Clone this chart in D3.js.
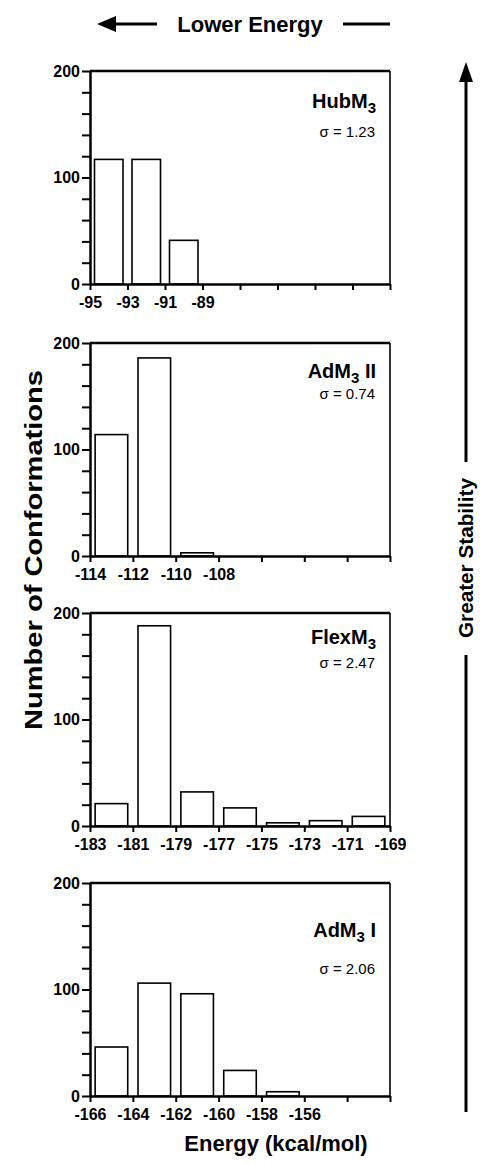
<!DOCTYPE html>
<html>
<head>
<meta charset="utf-8">
<script src="https://cdn.jsdelivr.net/npm/d3@7"></script>
<style>
  body { margin: 0; background: #fff; }
  svg { font-family: "Liberation Sans", Arial, Helvetica, sans-serif; }
  .tick text { font-weight: bold; font-size: 16px; fill: #000; }
  .tick line { stroke: #000; stroke-width: 2; }
  .domain { stroke: #000; stroke-width: 2.5; }
</style>
</head>
<body>
<div id="chart"></div>
<script>
// Histogram data, one set of arrays per panel (bins are 2 kcal/mol wide)
var hubStarts = [-95, -93, -91];
var hubCounts = [117, 117, 41];
var hubDomain = [-95, -79];
var hubLabels = [-95, -93, -91, -89];

var adm2Starts = [-114, -112, -110];
var adm2Counts = [114, 186, 3];
var adm2Domain = [-114, -100];
var adm2Labels = [-114, -112, -110, -108];

var flexStarts = [-183, -181, -179, -177, -175, -173, -171];
var flexCounts = [21, 188, 32, 17, 3, 5, 9];
var flexDomain = [-183, -169];
var flexLabels = [-183, -181, -179, -177, -175, -173, -171, -169];

var adm1Starts = [-166, -164, -162, -160, -158];
var adm1Counts = [46, 106, 96, 24, 4];
var adm1Domain = [-166, -152];
var adm1Labels = [-166, -164, -162, -160, -158, -156];

var titleBase = ["HubM", "AdM", "FlexM", "AdM"];
var titleSuffix = ["", " II", "", " I"];
var sigmas = ["1.23", "0.74", "2.47", "2.06"];
var yLabels = [0, 100, 200];
var binWidth = 2;

var panels = [
  {starts: hubStarts, counts: hubCounts, domain: hubDomain, labels: hubLabels},
  {starts: adm2Starts, counts: adm2Counts, domain: adm2Domain, labels: adm2Labels},
  {starts: flexStarts, counts: flexCounts, domain: flexDomain, labels: flexLabels},
  {starts: adm1Starts, counts: adm1Counts, domain: adm1Domain, labels: adm1Labels}
];

// Layout
var width = 483, height = 1165;
var left = 90, right = 390;
var panelTops = [71, 343, 613, 883];
var panelH = 213;
var titleDy = [37, 35, 31, 54];
var sigmaDy = [66, 56, 55, 91];

var svg = d3.select("#chart").append("svg")
    .attr("width", width)
    .attr("height", height);

panels.forEach(function(p, i) {
    var top = panelTops[i];
    var g = svg.append("g").attr("class", "panel");

    var x = d3.scaleLinear().domain(p.domain).range([left, right]);
    var y = d3.scaleLinear().domain([0, 200]).range([top + panelH, top]);

    // bars
    var bin = x(p.domain[0] + binWidth) - x(p.domain[0]);
    var pad = bin * 0.12;
    g.selectAll("rect.bar").data(p.starts).enter()
        .append("rect")
        .attr("class", "bar")
        .attr("x", function(d) { return x(d) + pad; })
        .attr("width", bin - 2 * pad)
        .attr("y", function(d, j) { return y(p.counts[j]); })
        .attr("height", function(d, j) { return y(0) - y(p.counts[j]); })
        .attr("fill", "#fff")
        .attr("stroke", "#000")
        .attr("stroke-width", 1.6);

    // frame: top and right edges
    g.append("line")
        .attr("x1", x(p.domain[0])).attr("x2", x(p.domain[1]))
        .attr("y1", y(200)).attr("y2", y(200))
        .attr("stroke", "#000").attr("stroke-width", 2.5);
    g.append("line")
        .attr("x1", x(p.domain[1])).attr("x2", x(p.domain[1]))
        .attr("y1", y(200)).attr("y2", y(0))
        .attr("stroke", "#000").attr("stroke-width", 1.6);

    var xAxis = d3.axisBottom(x)
        .tickValues(d3.range(p.domain[0], p.domain[1] + 0.5, binWidth))
        .tickSize(6)
        .tickSizeOuter(0)
        .tickPadding(7)
        .tickFormat(function(d) { return p.labels.indexOf(d) >= 0 ? String(d) : ""; });
    g.append("g")
        .attr("class", "xAxis")
        .attr("transform", "translate(0," + y(0) + ")")
        .call(xAxis);

    var yAxis = d3.axisLeft(y)
        .tickValues(d3.range(0, 201, 20))
        .tickSize(8)
        .tickSizeOuter(0)
        .tickPadding(2)
        .tickFormat(function(d) { return yLabels.indexOf(d) >= 0 ? String(d) : ""; });
    g.append("g")
        .attr("class", "yAxis")
        .attr("transform", "translate(" + left + ",0)")
        .call(yAxis);

    // panel title with subscript
    var t = g.append("text")
        .attr("x", 376)
        .attr("y", top + titleDy[i])
        .attr("text-anchor", "end")
        .attr("font-weight", "bold")
        .attr("font-size", 20);
    t.append("tspan").text(titleBase[i]);
    t.append("tspan").attr("dy", 5).attr("font-size", 15).text("3");
    t.append("tspan").attr("dy", -5).text(titleSuffix[i]);

    g.append("text")
        .attr("x", 375)
        .attr("y", top + sigmaDy[i])
        .attr("text-anchor", "end")
        .attr("font-size", 15)
        .text("\u03c3 = " + sigmas[i]);
});

// top header: Lower Energy with left arrow
svg.append("text")
    .attr("x", 250).attr("y", 32)
    .attr("text-anchor", "middle")
    .attr("font-weight", "bold")
    .attr("font-size", 22)
    .text("Lower Energy");
svg.append("line")
    .attr("x1", 112).attr("x2", 157).attr("y1", 24).attr("y2", 24)
    .attr("stroke", "#000").attr("stroke-width", 3);
svg.append("path")
    .attr("d", "M97,24 L116,16 L116,32 Z")
    .attr("fill", "#000");
svg.append("line")
    .attr("x1", 343).attr("x2", 390).attr("y1", 24).attr("y2", 24)
    .attr("stroke", "#000").attr("stroke-width", 3);

// right side: Greater Stability arrow
var ax = 466;
svg.append("path")
    .attr("d", "M" + ax + ",62 L" + (ax - 7) + ",82 L" + (ax + 7) + ",82 Z")
    .attr("fill", "#000");
svg.append("line")
    .attr("x1", ax).attr("x2", ax).attr("y1", 80).attr("y2", 462)
    .attr("stroke", "#000").attr("stroke-width", 3);
svg.append("line")
    .attr("x1", ax).attr("x2", ax).attr("y1", 655).attr("y2", 1112)
    .attr("stroke", "#000").attr("stroke-width", 3);
svg.append("text")
    .attr("transform", "translate(" + ax + ",558) rotate(-90)")
    .attr("text-anchor", "middle")
    .attr("dy", "0.35em")
    .attr("font-weight", "bold")
    .attr("font-size", 20)
    .attr("textLength", 160)
    .attr("lengthAdjust", "spacingAndGlyphs")
    .text("Greater Stability");

// axis titles
svg.append("text")
    .attr("transform", "translate(34,550) rotate(-90)")
    .attr("text-anchor", "middle")
    .attr("dy", "0.35em")
    .attr("font-weight", "bold")
    .attr("font-size", 23)
    .attr("textLength", 360)
    .attr("lengthAdjust", "spacingAndGlyphs")
    .text("Number of Conformations");
svg.append("text")
    .attr("x", 276).attr("y", 1151)
    .attr("text-anchor", "middle")
    .attr("font-weight", "bold")
    .attr("font-size", 22)
    .text("Energy (kcal/mol)");
</script>
</body>
</html>
